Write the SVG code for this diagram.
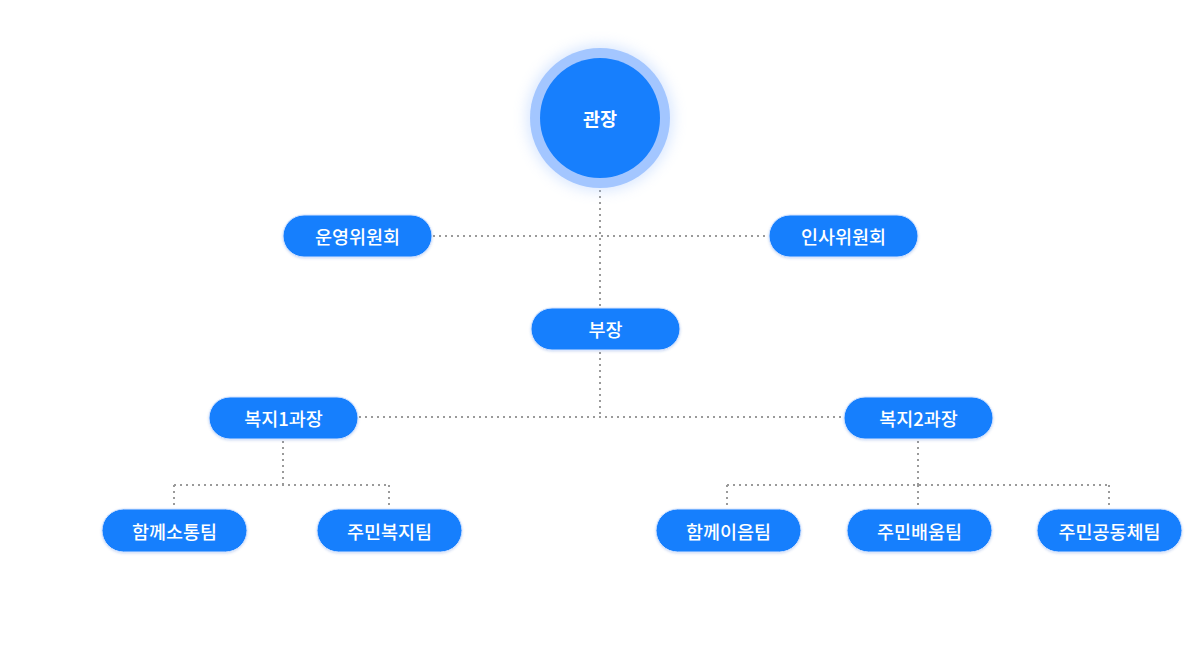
<svg xmlns="http://www.w3.org/2000/svg" width="1200" height="651" viewBox="0 0 1200 651">
  <defs>
    <filter id="glow" x="-50%" y="-50%" width="200%" height="200%">
      <feGaussianBlur stdDeviation="7"/>
    </filter>
    <filter id="pillShadow" x="-10%" y="-30%" width="120%" height="160%">
      <feDropShadow dx="0" dy="1" stdDeviation="1.2" flood-color="#3a6fd0" flood-opacity="0.25"/>
    </filter>
  </defs>
  <style>
    .pill { fill: #177ffd; stroke: #d4e4ff; stroke-width: 1; filter: url(#pillShadow); }
    .label { fill: #ffffff; font-family: "Noto Sans CJK KR", "Noto Sans", sans-serif; font-size: 18.5px; font-weight: 500; text-anchor: middle; dominant-baseline: central; }
    .conn { fill: none; stroke: #9a9a9a; stroke-width: 2; stroke-dasharray: 2 4; }
  </style>
  <rect width="1200" height="651" fill="#ffffff"/>

  <g id="connectors">
    <path class="conn" d="M600 190 V308"/>
    <path class="conn" d="M433 236 H769"/>
    <path class="conn" d="M600 352 V417"/>
    <path class="conn" d="M359 417 H844"/>
    <path class="conn" d="M283 441 V485"/>
    <path class="conn" d="M174 485 H389"/>
    <path class="conn" d="M174 485 V509"/>
    <path class="conn" d="M389 485 V509"/>
    <path class="conn" d="M918 441 V485"/>
    <path class="conn" d="M727 485 H1109"/>
    <path class="conn" d="M727 485 V509"/>
    <path class="conn" d="M918 485 V509"/>
    <path class="conn" d="M1109 485 V509"/>
  </g>

  <g id="director">
    <circle cx="600" cy="118" r="73" fill="#9fc3ff" opacity="0.4" filter="url(#glow)"/>
    <circle cx="600" cy="118" r="70" fill="#a3c6ff"/>
    <circle cx="600" cy="118" r="60" fill="#177ffd"/>
    <text class="label" x="600" y="118" style="font-weight:700">관장</text>
  </g>

  <g id="operation-committee">
    <rect class="pill" x="283" y="215" width="149" height="42" rx="21"/>
    <text class="label" x="357.5" y="236">운영위원회</text>
  </g>
  <g id="personnel-committee">
    <rect class="pill" x="769" y="215" width="149" height="42" rx="21"/>
    <text class="label" x="843.5" y="236">인사위원회</text>
  </g>
  <g id="deputy">
    <rect class="pill" x="531" y="308" width="149" height="42" rx="21"/>
    <text class="label" x="605.5" y="329">부장</text>
  </g>
  <g id="welfare-1">
    <rect class="pill" x="209" y="397" width="149" height="42" rx="21"/>
    <text class="label" x="283.5" y="418">복지1과장</text>
  </g>
  <g id="welfare-2">
    <rect class="pill" x="844" y="397" width="149" height="42" rx="21"/>
    <text class="label" x="918.5" y="418">복지2과장</text>
  </g>
  <g id="team-sotong">
    <rect class="pill" x="102" y="509" width="145" height="43" rx="21.5"/>
    <text class="label" x="174.5" y="530.5">함께소통팀</text>
  </g>
  <g id="team-bokji">
    <rect class="pill" x="317" y="509" width="145" height="43" rx="21.5"/>
    <text class="label" x="389.5" y="530.5">주민복지팀</text>
  </g>
  <g id="team-ieum">
    <rect class="pill" x="656" y="509" width="145" height="43" rx="21.5"/>
    <text class="label" x="728.5" y="530.5">함께이음팀</text>
  </g>
  <g id="team-baeum">
    <rect class="pill" x="847" y="509" width="145" height="43" rx="21.5"/>
    <text class="label" x="919.5" y="530.5">주민배움팀</text>
  </g>
  <g id="team-community">
    <rect class="pill" x="1037" y="509" width="145" height="43" rx="21.5"/>
    <text class="label" x="1109.5" y="530.5">주민공동체팀</text>
  </g>
</svg>
